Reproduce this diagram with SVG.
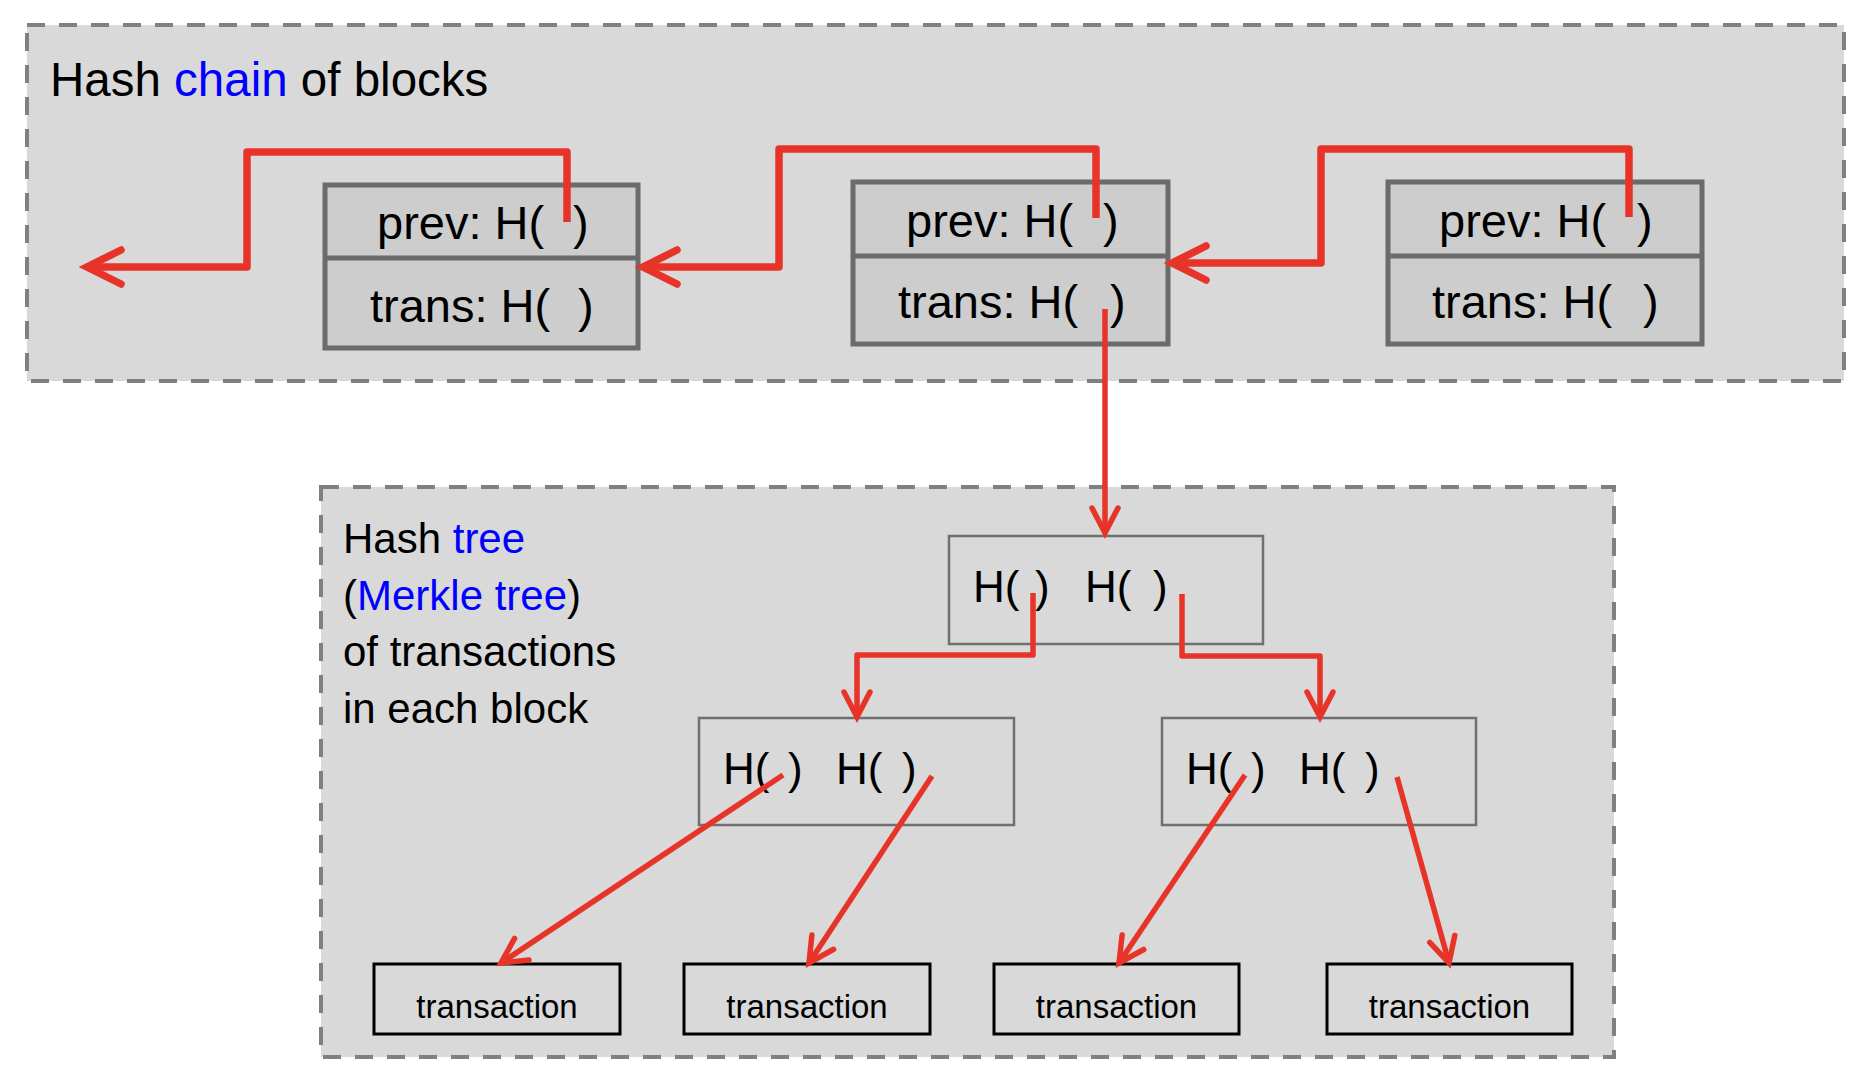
<svg xmlns="http://www.w3.org/2000/svg" width="1872" height="1070" viewBox="0 0 1872 1070">
<style>
text{font-family:"Liberation Sans",Arial,sans-serif;fill:#000}
.blue{fill:#0000ff}
.panel{fill:#d9d9d9;stroke:#808080;stroke-width:4;stroke-dasharray:18 14}
.block{fill:#cdcdcd;stroke:#6b6b6b;stroke-width:5}
.div{stroke:#6b6b6b;stroke-width:5}
.node{fill:#d9d9d9;stroke:#707070;stroke-width:2.5}
.tx{fill:#d9d9d9;stroke:#000;stroke-width:3}
.bt{font-size:47px}
.ht{font-size:44px}
.tt{font-size:33px;text-anchor:middle}
.chain{fill:none;stroke:#e83428;stroke-width:7.5;stroke-linejoin:round}
.tree{fill:none;stroke:#e83428;stroke-width:5.5;stroke-linejoin:round}
</style>
<defs>
<marker id="ah1" markerUnits="userSpaceOnUse" orient="auto" viewBox="-50 -30 60 60" refX="0" refY="0" markerWidth="60" markerHeight="60" overflow="visible">
<path d="M-34,-17 L0,0 L-34,17" fill="none" stroke="#e83428" stroke-width="7.5" stroke-linecap="round" stroke-linejoin="miter"/>
</marker>
<marker id="ah2" markerUnits="userSpaceOnUse" orient="auto" viewBox="-40 -20 50 40" refX="0" refY="0" markerWidth="50" markerHeight="40" overflow="visible">
<path d="M-25,-13 L0,0 L-25,13" fill="none" stroke="#e83428" stroke-width="5.5" stroke-linecap="round" stroke-linejoin="miter"/>
</marker>
</defs>

<g id="chain-panel">
<rect class="panel" x="27" y="25" width="1817" height="356"/>
<text x="50" y="96" style="font-size:47.5px">Hash <tspan class="blue">chain</tspan> of blocks</text>
</g>

<g id="tree-panel">
<rect class="panel" x="321" y="487" width="1293" height="570"/>
<text x="343" y="553" style="font-size:42px">Hash <tspan class="blue">tree</tspan></text>
<text x="343" y="610" style="font-size:42px">(<tspan class="blue">Merkle tree</tspan>)</text>
<text x="343" y="666" style="font-size:42px">of transactions</text>
<text x="343" y="723" style="font-size:42px">in each block</text>
</g>

<g id="block1">
<rect class="block" x="325" y="185" width="313" height="163"/>
<line class="div" x1="325" y1="258" x2="638" y2="258"/>
<text class="bt" x="377" y="239">prev: H(<tspan x="573">)</tspan></text>
<text class="bt" x="370" y="322">trans: H(<tspan x="578">)</tspan></text>
</g>

<g id="block2">
<rect class="block" x="853" y="182" width="315" height="162"/>
<line class="div" x1="853" y1="256" x2="1168" y2="256"/>
<text class="bt" x="906" y="237">prev: H(<tspan x="1103">)</tspan></text>
<text class="bt" x="898" y="318">trans: H(<tspan x="1110">)</tspan></text>
</g>

<g id="block3">
<rect class="block" x="1388" y="182" width="314" height="162"/>
<line class="div" x1="1388" y1="256" x2="1702" y2="256"/>
<text class="bt" x="1439" y="237">prev: H(<tspan x="1637">)</tspan></text>
<text class="bt" x="1432" y="318">trans: H(<tspan x="1643">)</tspan></text>
</g>

<g id="root">
<rect class="node" x="949" y="536" width="314" height="108"/>
<text class="ht" x="973" y="602">H(<tspan x="1035">)</tspan><tspan x="1085">H(</tspan><tspan x="1153">)</tspan></text>
</g>

<g id="left-node">
<rect class="node" x="699" y="718" width="315" height="107"/>
<text class="ht" x="723" y="784">H(<tspan x="788">)</tspan><tspan x="836">H(</tspan><tspan x="902">)</tspan></text>
</g>

<g id="right-node">
<rect class="node" x="1162" y="718" width="314" height="107"/>
<text class="ht" x="1186" y="784">H(<tspan x="1251">)</tspan><tspan x="1299">H(</tspan><tspan x="1365">)</tspan></text>
</g>

<g id="tx1">
<rect class="tx" x="374" y="964" width="246" height="70"/>
<text class="tt" x="497" y="1018">transaction</text>
</g>
<g id="tx2">
<rect class="tx" x="684" y="964" width="246" height="70"/>
<text class="tt" x="807" y="1018">transaction</text>
</g>
<g id="tx3">
<rect class="tx" x="994" y="964" width="245" height="70"/>
<text class="tt" x="1116.5" y="1018">transaction</text>
</g>
<g id="tx4">
<rect class="tx" x="1327" y="964" width="245" height="70"/>
<text class="tt" x="1449.5" y="1018">transaction</text>
</g>

<g id="connectors">
<path class="chain" d="M567,222 V152 H247 V267 H87" marker-end="url(#ah1)"/>
<path class="chain" d="M1096,218 V149 H779 V267 H643" marker-end="url(#ah1)"/>
<path class="chain" d="M1629,217 V149 H1321 V263 H1172" marker-end="url(#ah1)"/>
<path class="tree" d="M1105,309 V533" marker-end="url(#ah2)"/>
<path class="tree" d="M1033,593 V655 H857 V717" marker-end="url(#ah2)"/>
<path class="tree" d="M1182,594 V656 H1320 V717" marker-end="url(#ah2)"/>
<path class="tree" d="M783,775 L501,963" marker-end="url(#ah2)"/>
<path class="tree" d="M932,776 L809,963" marker-end="url(#ah2)"/>
<path class="tree" d="M1245,775 L1119,963" marker-end="url(#ah2)"/>
<path class="tree" d="M1397,777 L1449,963" marker-end="url(#ah2)"/>
</g>
</svg>
